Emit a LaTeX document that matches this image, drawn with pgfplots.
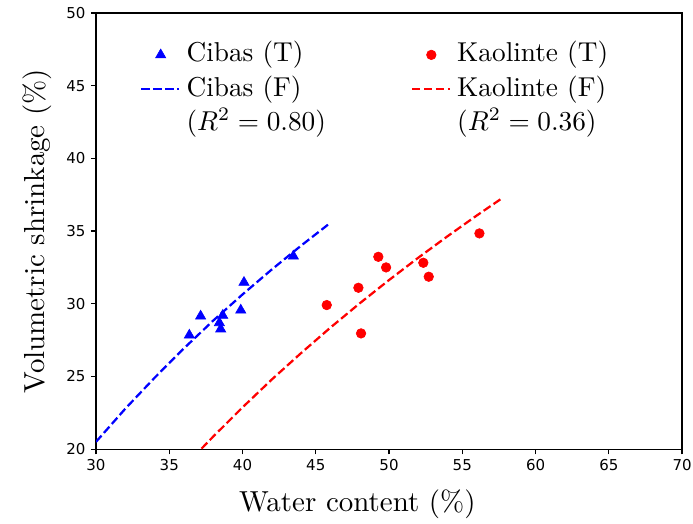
\documentclass[border=0pt]{standalone}
\usepackage{fontspec}
\usepackage{graphicx}
\usepackage{pgfplots}
\pgfplotsset{compat=1.18}
\newfontfamily\dejavu{DejaVu Sans}
% labels are cmr10 scaled up, as matplotlib does it
\newcommand{\lbl}[1]{\scalebox{1.93}{\fontsize{10}{12}\selectfont #1}}
\newcommand{\leg}[1]{\scalebox{1.82}{\fontsize{10}{12}\selectfont #1}}
\pgfplotsset{
  markleg/.style={legend image code/.code={\draw[##1] plot coordinates {(0.45cm,0cm)};}},
  lineleg/.style={legend image code/.code={\draw[##1] (0cm,0cm) -- (0.89cm,0cm);}},
}

\begin{document}
\begin{tikzpicture}
\begin{axis}[
  name=ax,
  scale only axis, width=390.7pt, height=290.7pt,
  xmin=30, xmax=70, ymin=20, ymax=50,
  xtick={30,35,...,70}, ytick={20,25,...,50},
  tick align=outside, tick pos=left,
  major tick length=3.5pt,
  every tick/.style={black, line width=0.8pt},
  axis line style={line width=0.8pt},
  /pgf/number format/assume math mode=true,
  tick label style={font=\dejavu\fontsize{10}{12}\selectfont},
  xlabel={\lbl{Water content (\%)}},
  ylabel={\lbl{Volumetric shrinkage (\%)}},
  every axis x label/.style={at={(axis description cs:0.446,-0.1438)}, anchor=base},
  every axis y label/.style={at={(axis description cs:-0.1,0.5)}, rotate=90, anchor=center},
  legend columns=2,
  legend cell align=left,
  legend style={at={(axis description cs:0.0675,0.95)}, anchor=north west,
    draw=none, fill=none,
    nodes={inner sep=2pt, text height=13.7pt, text depth=4.6pt},
    /tikz/column 1/.style={column sep=2pt},
    /tikz/column 3/.style={column sep=2pt},
    /tikz/column 2/.style={column sep=54.7pt}, row sep=0.6pt},
]
% Cibas (T)
\addplot[only marks, mark=triangle*, mark size=3.9pt, color=blue, markleg]
  coordinates {(36.37,27.84) (37.14,29.15) (38.65,29.20) (38.42,28.69)
               (38.51,28.26) (39.88,29.56) (40.10,31.47) (43.47,33.28)};
\addlegendentry{\leg{Cibas (T)}}
% Kaolinte (T)
\addplot[only marks, mark=*, mark size=3.2pt, color=red, markleg]
  coordinates {(45.75,29.91) (47.91,31.10) (48.09,27.96) (49.27,33.23)
               (49.80,32.50) (52.34,32.82) (52.71,31.86) (56.17,34.84)};
\addlegendentry{\leg{Kaolinte (T)}}
% Cibas (F)
\addplot[blue, line width=1.5pt, dash pattern=on 5.55pt off 2.4pt, no marks, lineleg]
  coordinates {(30,20.50) (32,22.78) (34,24.91) (36,26.93) (38,28.84)
               (40,30.64) (42,32.36) (44,34.00) (46,35.57)};
\addlegendentry{\leg{Cibas (F)}}
% Kaolinte (F)
\addplot[red, line width=1.5pt, dash pattern=on 5.55pt off 2.4pt, no marks, lineleg]
  coordinates {(37.2,20.03) (38,20.86) (40,22.87) (42,24.79) (44,26.61)
               (46,28.36) (48,30.03) (50,31.63) (52,33.17) (54,34.65)
               (56,36.08) (57.7,37.25)};
\addlegendentry{\leg{Kaolinte (F)}}
\addlegendimage{empty legend}
\addlegendentry{\leg{$(R^2=0.80)$}}
\addlegendimage{empty legend}
\addlegendentry{\leg{$(R^2=0.36)$}}
\end{axis}
\pgfresetboundingbox
\path ([shift={(-64pt,-49.3pt)}]ax.south west) rectangle ([shift={(7.3pt,8.7pt)}]ax.north east);
\end{tikzpicture}
\end{document}
